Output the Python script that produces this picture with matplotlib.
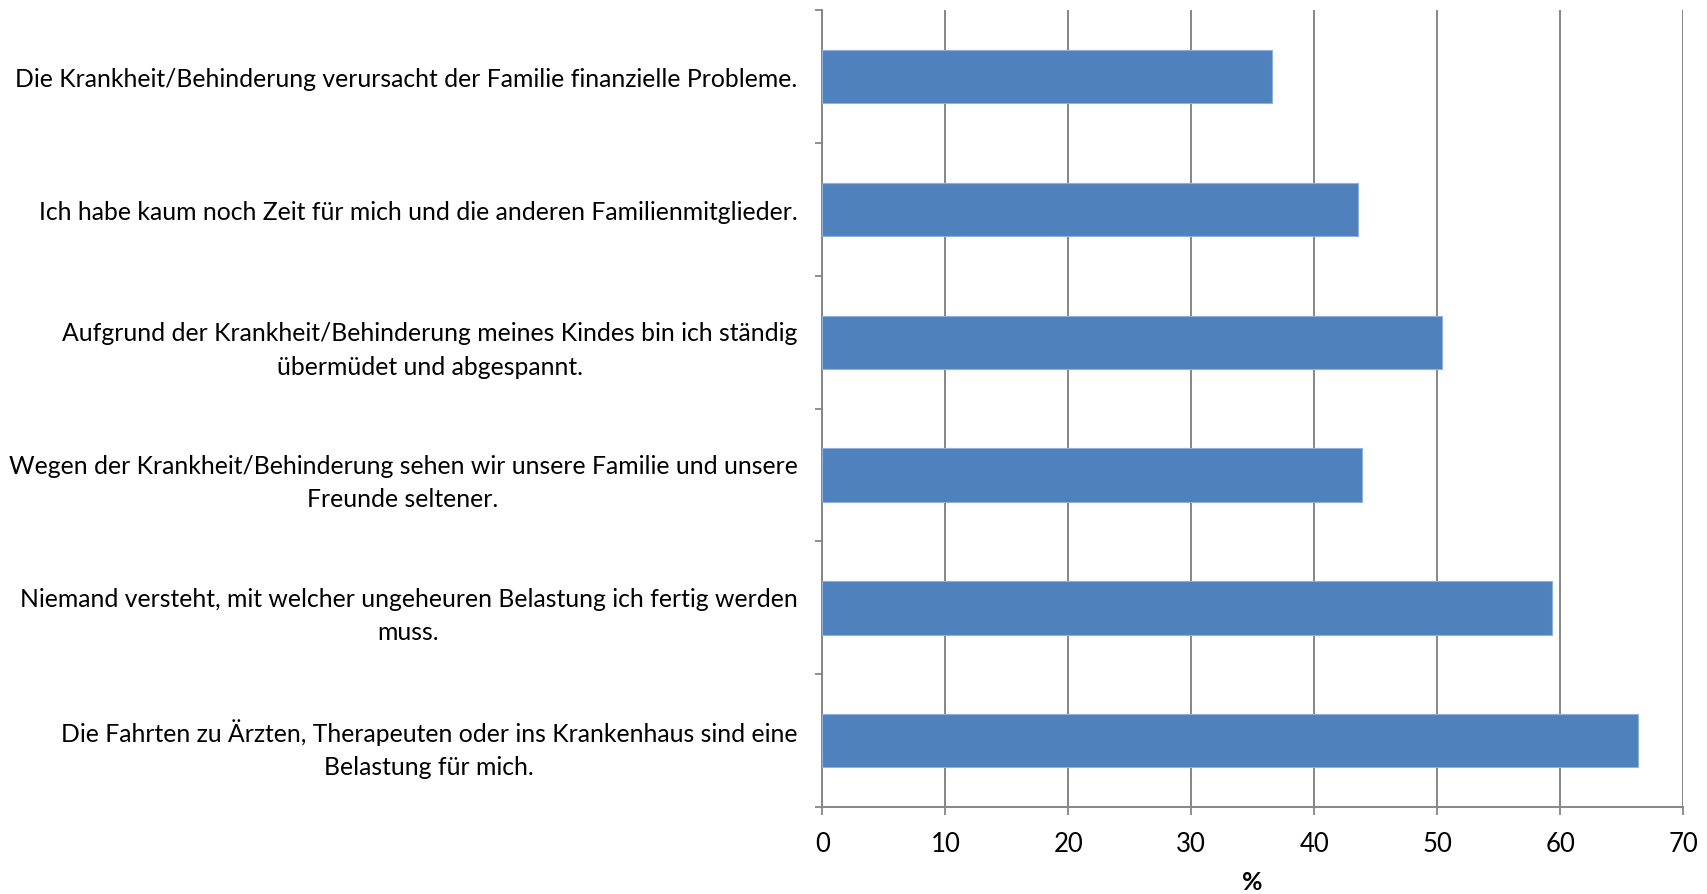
import matplotlib
matplotlib.use("Agg")
import matplotlib.pyplot as plt
import numpy as np

# categories top to bottom, as in the picture
labels = [
    "Die Krankheit/Behinderung verursacht der Familie finanzielle Probleme.",
    "Ich habe kaum noch Zeit für mich und die anderen Familienmitglieder.",
    "Aufgrund der Krankheit/Behinderung meines Kindes bin ich ständig\nübermüdet und abgespannt.",
    "Wegen der Krankheit/Behinderung sehen wir unsere Familie und unsere\nFreunde seltener.",
    "Niemand versteht, mit welcher ungeheuren Belastung ich fertig werden\nmuss.",
    "Die Fahrten zu Ärzten, Therapeuten oder ins Krankenhaus sind eine\nBelastung für mich.",
]
values = [36.6, 43.6, 50.4, 43.9, 59.3, 66.3]
xticks = [0, 10, 20, 30, 40, 50, 60, 70]

plt.rcParams['font.family'] = ['Lato', 'DejaVu Sans']

fig = plt.figure(figsize=(17.08, 8.95), dpi=100)
ax = fig.add_axes([0.4815, 0.0969, 0.5039, 0.8909])

y = np.arange(len(labels))
ax.barh(y, values, height=0.4, color="#4F81BD", edgecolor="#8EB0DA", linewidth=0.8, zorder=3)

ax.set_xlim(0, 70)
ax.set_ylim(len(labels) - 0.5, -0.5)
ax.set_xticks(xticks)
ax.set_xticklabels([str(t) for t in xticks], fontsize=18.5)
ax.set_yticks(y)
ax.set_yticklabels(labels, fontsize=17.8, multialignment="center", linespacing=1.55)
ax.set_yticks(np.arange(len(labels) + 1) - 0.5, minor=True)

ax.tick_params(axis="y", which="major", length=0, pad=18)
ax.tick_params(axis="y", which="minor", length=5, width=1.3, color="#868686")
ax.tick_params(axis="x", length=6, width=1.3, color="#868686", pad=11)

ax.grid(axis="x", color="#868686", linewidth=1.4, zorder=0)
for s in ["top", "right"]:
    ax.spines[s].set_visible(False)
for s in ["left", "bottom"]:
    ax.spines[s].set_color("#868686")
    ax.spines[s].set_linewidth(1.4)

ax.set_xlabel("%", fontsize=18, fontweight="bold", labelpad=10)

fig.savefig("out.png", dpi=100)
